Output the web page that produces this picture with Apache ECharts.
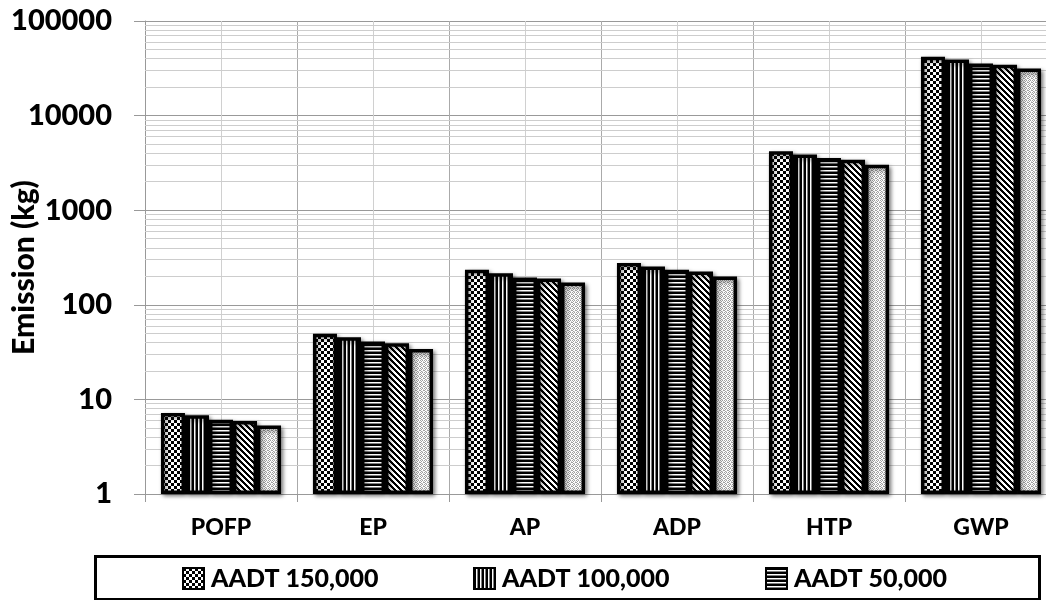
<!DOCTYPE html>
<html><head><meta charset="utf-8">
<script src="https://cdn.jsdelivr.net/npm/echarts@6/dist/echarts.min.js"></script>
<style>html,body{margin:0;padding:0;background:#fff}#c{width:1046px;height:600px}</style>
</head><body><div id="c"></div>
<script>
// ---- data ----
const categories = ['POFP', 'EP', 'AP', 'ADP', 'HTP', 'GWP'];
const seriesNames = ['AADT 150,000', 'AADT 100,000', 'AADT 50,000', 'AADT 25,000', 'AADT 10,000'];
const aadt150 = [7.2, 49.3, 235, 276, 4190, 41800];
const aadt100 = [6.8, 45.5, 216, 254, 3870, 39100];
const aadt50  = [6.1, 40.9, 194, 235, 3570, 35500];
const aadt25  = [5.9, 39.3, 190, 225, 3420, 34400];
const aadt10  = [5.3, 34.0, 172, 199, 3030, 31400];
const legendNames = ['AADT 150,000', 'AADT 100,000', 'AADT 50,000'];
const yMin = 1, yMax = 100000;
const minorMultipliers = [2, 3, 4, 5, 6, 7, 8, 9];
const decades = [1, 10, 100, 1000, 10000];
const halfSlots = ['', '', '', '', '', '', '', '', '', '', '', ''];

// ---- patterns ----
function makePattern(w, h, draw) {
  const c = document.createElement('canvas');
  c.width = w; c.height = h;
  const g = c.getContext('2d');
  g.fillStyle = '#fff'; g.fillRect(0, 0, w, h);
  draw(g);
  return { image: c, repeat: 'repeat' };
}
const pChecker = makePattern(6, 6, g => { g.fillStyle = '#000'; g.fillRect(0, 0, 3, 3); g.fillRect(3, 3, 3, 3); });
const pVert = makePattern(4, 4, g => { g.fillStyle = '#000'; g.fillRect(0, 0, 2, 4); g.fillStyle = '#808080'; g.fillRect(3, 0, 1, 4); });
const pHorz = makePattern(4, 4, g => { g.fillStyle = '#000'; g.fillRect(0, 0, 4, 2); g.fillStyle = '#808080'; g.fillRect(0, 3, 4, 1); });
const pDiag = makePattern(6, 6, g => { g.fillStyle = '#000'; for (let y = 0; y < 6; y++) for (let k = 0; k < 3; k++) g.fillRect((y + k) % 6, y, 1, 1); });
const pLight = makePattern(4, 4, g => { g.fillStyle = '#a0a0a0'; g.fillRect(0, 0, 1, 1); g.fillRect(2, 0, 1, 1); g.fillRect(1, 1, 1, 1); g.fillRect(3, 2, 1, 1); g.fillRect(0, 2, 1, 1); g.fillRect(1, 3, 1, 1); g.fillStyle = '#d0d0d0'; g.fillRect(3, 1, 1, 1); g.fillRect(2, 3, 1, 1); });
const patterns = [pChecker, pVert, pHorz, pDiag, pLight];

const minorVals = [];
decades.forEach(d => minorMultipliers.forEach(m => minorVals.push(d * m)));

const seriesData = [aadt150, aadt100, aadt50, aadt25, aadt10];
const FONT = 'Lato';
const W = '900';

const series = seriesData.map((d, i) => ({
  type: 'bar',
  name: seriesNames[i],
  data: d,
  barGap: '0%',
  barCategoryGap: '21%',
  z: 3,
  emphasis: { disabled: true },
  itemStyle: {
    color: patterns[i], borderColor: '#000', borderWidth: 3.5,
    shadowBlur: 4, shadowColor: 'rgba(0,0,0,0.45)', shadowOffsetX: 2, shadowOffsetY: 2
  }
}));
series[0].markLine = {
  silent: true, symbol: 'none', z: 1, animation: false,
  label: { show: false },
  lineStyle: { color: '#cdcdcd', width: 1, type: 'solid' },
  emphasis: { disabled: true },
  data: minorVals.map(v => ({ yAxis: v }))
};

const legendLeft = [182, 473, 765];
const legends = legendNames.map((n, i) => ({
  data: [n], left: legendLeft[i], top: 566, padding: 0,
  icon: 'rect', itemWidth: 21, itemHeight: 21,
  itemStyle: { borderColor: '#000', borderWidth: 2, shadowBlur: 0, shadowOffsetX: 0, shadowOffsetY: 0 },
  textStyle: { fontFamily: FONT, fontWeight: W, fontSize: 25, color: '#000', padding: [0, 0, 0, 2] },
  selectedMode: false
}));

const chart = echarts.init(document.getElementById('c'), null, { renderer: 'canvas' });
chart.setOption({
  animation: false,
  backgroundColor: '#fff',
  grid: { left: 145, top: 21, width: 912, height: 473, containLabel: false, outerBoundsMode: 'none' },
  legend: legends,
  xAxis: [{
    type: 'category', data: categories,
    axisLine: { lineStyle: { color: '#999', width: 1 } },
    axisTick: { show: true, length: 8, lineStyle: { color: '#999' } },
    axisLabel: { color: '#000', fontFamily: FONT, fontWeight: W, fontSize: 23, margin: 22 },
    splitLine: { show: true, lineStyle: { color: '#aaa', width: 1 } }
  }, {
    type: 'category', data: halfSlots, position: 'bottom',
    axisLine: { show: false }, axisTick: { show: false }, axisLabel: { show: false },
    splitLine: { show: true, interval: (i) => i % 2 === 1, lineStyle: { color: '#d0d0d0', width: 1 } }
  }],
  yAxis: {
    type: 'log', logBase: 10, min: yMin, max: yMax, splitNumber: 5,
    name: 'Emission (kg)', nameLocation: 'middle', nameGap: 106, nameMoveOverlap: false,
    nameTextStyle: { fontFamily: FONT, fontWeight: W, fontSize: 30, color: '#000', padding: [0, 20, 0, 0] },
    axisLine: { show: true, lineStyle: { color: '#999', width: 1 } },
    axisTick: { show: true, length: 11, lineStyle: { color: '#999' } },
    axisLabel: { color: '#000', fontFamily: FONT, fontWeight: W, fontSize: 29, margin: 33,
      formatter: v => String(Math.round(v)) },
    splitLine: { show: true, lineStyle: { color: '#999', width: 1 } }
  },
  graphic: [{
    type: 'rect', left: 93, top: 554, z: 10, silent: true,
    shape: { width: 944, height: 43 },
    style: { fill: 'none', stroke: '#000', lineWidth: 3 }
  }],
  series: series
});
</script>
</body></html>
